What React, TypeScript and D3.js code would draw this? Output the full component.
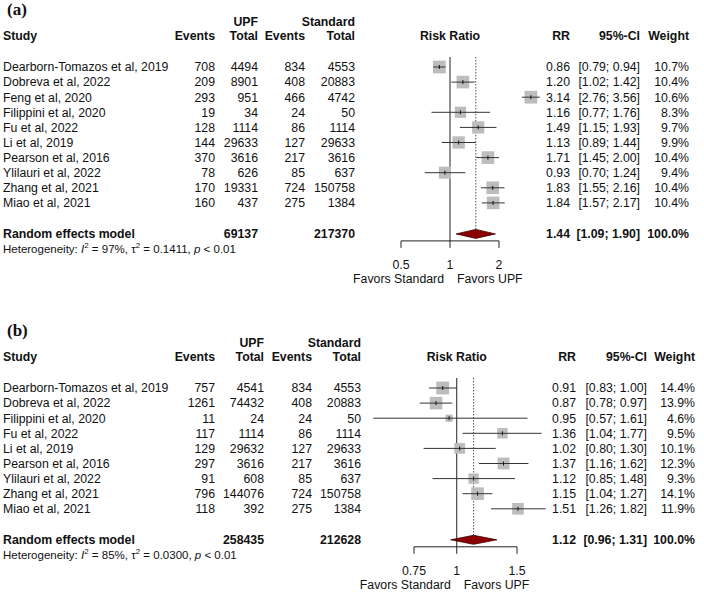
import React from "react";
import * as d3 from "d3";

// ---------- Panel (a) data ----------
const studiesA = [
  "Dearborn-Tomazos et al, 2019", "Dobreva et al, 2022", "Feng et al, 2020", "Filippini et al, 2020",
  "Fu et al, 2022", "Li et al, 2019", "Pearson et al, 2016", "Ylilauri et al, 2022",
  "Zhang et al, 2021", "Miao et al, 2021",
];
const eventsUpfA = [708, 209, 293, 19, 128, 144, 370, 78, 170, 160];
const totalUpfA = [4494, 8901, 951, 34, 1114, 29633, 3616, 626, 19331, 437];
const eventsStdA = [834, 408, 466, 24, 86, 127, 217, 85, 724, 275];
const totalStdA = [4553, 20883, 4742, 50, 1114, 29633, 3616, 637, 150758, 1384];
const rrA = [0.86, 1.2, 3.14, 1.16, 1.49, 1.13, 1.71, 0.93, 1.83, 1.84];
const lowerA = [0.79, 1.02, 2.76, 0.77, 1.15, 0.89, 1.45, 0.7, 1.55, 1.57];
const upperA = [0.94, 1.42, 3.56, 1.76, 1.93, 1.44, 2.0, 1.24, 2.16, 2.17];
const weightA = [10.7, 10.4, 10.6, 8.3, 9.7, 9.9, 10.4, 9.4, 10.4, 10.4];
const pooledA = [1.44, 1.09, 1.9];
const sumsA = [69137, 217370];
const hetA = ["97%", "0.1411", "< 0.01"];
const ticksA = [0.5, 1, 2];
const tickLabelsA = ["0.5", "1", "2"];

// ---------- Panel (b) data ----------
const studiesB = [
  "Dearborn-Tomazos et al, 2019", "Dobreva et al, 2022", "Filippini et al, 2020", "Fu et al, 2022",
  "Li et al, 2019", "Pearson et al, 2016", "Ylilauri et al, 2022", "Zhang et al, 2021", "Miao et al, 2021",
];
const eventsUpfB = [757, 1261, 11, 117, 129, 297, 91, 796, 118];
const totalUpfB = [4541, 74432, 24, 1114, 29632, 3616, 608, 144076, 392];
const eventsStdB = [834, 408, 24, 86, 127, 217, 85, 724, 275];
const totalStdB = [4553, 20883, 50, 1114, 29633, 3616, 637, 150758, 1384];
const rrB = [0.91, 0.87, 0.95, 1.36, 1.02, 1.37, 1.12, 1.15, 1.51];
const lowerB = [0.83, 0.78, 0.57, 1.04, 0.8, 1.16, 0.85, 1.04, 1.26];
const upperB = [1.0, 0.97, 1.61, 1.77, 1.3, 1.62, 1.48, 1.27, 1.82];
const weightB = [14.4, 13.9, 4.6, 9.5, 10.1, 12.3, 9.3, 14.1, 11.9];
const pooledB = [1.12, 0.96, 1.31];
const sumsB = [258435, 212628];
const hetB = ["85%", "0.0300", "< 0.01"];
const ticksB = [0.75, 1, 1.5];
const tickLabelsB = ["0.75", "1", "1.5"];

const FONT = "'Liberation Sans', Arial, Helvetica, sans-serif";
const FS = 12.3;

type PanelProps = {
  label: string; top: number; studies: string[]; ev1: number[]; tot1: number[]; ev2: number[]; tot2: number[];
  rr: number[]; lo: number[]; hi: number[]; w: number[]; pooled: number[]; sums: number[]; het: string[];
  ticks: number[]; tickLabels: string[]; range: [number, number];
  cols: { ev1: number; tot1: number; ev2: number; tot2: number; rr: number; ci: number; w: number };
};

const f2 = d3.format(".2f");
const f1 = d3.format(".1f");

function Panel(p: PanelProps) {
  const x = d3.scaleLog().domain([p.ticks[0], p.ticks[p.ticks.length - 1]]).range(p.range);
  const t = p.top;
  const rowY = (i: number) => t + 67 + 15.1 * i;
  const n = p.studies.length;
  const randY = rowY(n - 1) + 31;
  const axisY = randY + 7;
  const maxW = d3.max(p.w) as number;
  const sq = (wt: number) => 12.8 * Math.sqrt(wt / maxW);
  const x1 = x(1);
  const xp = x(p.pooled[0]);
  const b = 4.3; // baseline offset from centre
  const c = p.cols;
  const ciText = (l: number, h: number) => `[${f2(l)}; ${f2(h)}]`;
  return (
    <g fontFamily={FONT} fontSize={FS} fill="#111">
      <text x={7} y={t + 15} fontFamily="'Liberation Serif', 'Times New Roman', serif" fontWeight="bold" fontSize={17}>{p.label}</text>
      {/* headers */}
      <g fontWeight="bold">
        <text x={c.tot1} y={t + 22 + b} textAnchor="end">UPF</text>
        <text x={c.tot2} y={t + 22 + b} textAnchor="end">Standard</text>
        <text x={3} y={t + 36 + b}>Study</text>
        <text x={c.ev1} y={t + 36 + b} textAnchor="end">Events</text>
        <text x={c.tot1} y={t + 36 + b} textAnchor="end">Total</text>
        <text x={c.ev2} y={t + 36 + b} textAnchor="end">Events</text>
        <text x={c.tot2} y={t + 36 + b} textAnchor="end">Total</text>
        <text x={x1} y={t + 36 + b} textAnchor="middle">Risk Ratio</text>
        <text x={c.rr} y={t + 36 + b} textAnchor="end">RR</text>
        <text x={c.ci} y={t + 36 + b} textAnchor="end">95%-CI</text>
        <text x={c.w} y={t + 36 + b} textAnchor="end">Weight</text>
      </g>
      {/* reference lines */}
      <line x1={x1} x2={x1} y1={rowY(0) - 10} y2={axisY} stroke="#222" strokeWidth={1} />
      <line x1={xp} x2={xp} y1={rowY(0) - 10} y2={randY - 4.5} stroke="#555" strokeWidth={1} strokeDasharray="1.5,1.5" />
      {p.studies.map((s, i) => {
        const y = rowY(i);
        const sz = sq(p.w[i]);
        return (
          <g key={s}>
            <text x={3} y={y + b}>{s}</text>
            <text x={c.ev1} y={y + b} textAnchor="end">{p.ev1[i]}</text>
            <text x={c.tot1} y={y + b} textAnchor="end">{p.tot1[i]}</text>
            <text x={c.ev2} y={y + b} textAnchor="end">{p.ev2[i]}</text>
            <text x={c.tot2} y={y + b} textAnchor="end">{p.tot2[i]}</text>
            <rect x={x(p.rr[i]) - sz / 2} y={y - sz / 2} width={sz} height={sz} fill="#bdbdbd" />
            <line x1={x(p.lo[i])} x2={x(p.hi[i])} y1={y} y2={y} stroke="#333" strokeWidth={1} />
            <line x1={x(p.rr[i])} x2={x(p.rr[i])} y1={y - 2} y2={y + 2} stroke="#111" strokeWidth={1} />
            <text x={c.rr} y={y + b} textAnchor="end">{f2(p.rr[i])}</text>
            <text x={c.ci} y={y + b} textAnchor="end">{ciText(p.lo[i], p.hi[i])}</text>
            <text x={c.w} y={y + b} textAnchor="end">{f1(p.w[i]) + "%"}</text>
          </g>
        );
      })}
      {/* pooled */}
      <g fontWeight="bold">
        <text x={3} y={randY + b}>Random effects model</text>
        <text x={c.tot1} y={randY + b} textAnchor="end">{p.sums[0]}</text>
        <text x={c.tot2} y={randY + b} textAnchor="end">{p.sums[1]}</text>
        <text x={c.rr} y={randY + b} textAnchor="end">{f2(p.pooled[0])}</text>
        <text x={c.ci} y={randY + b} textAnchor="end">{ciText(p.pooled[1], p.pooled[2])}</text>
        <text x={c.w} y={randY + b} textAnchor="end">100.0%</text>
      </g>
      <polygon
        points={`${x(p.pooled[1])},${randY} ${xp},${randY - 4.5} ${x(p.pooled[2])},${randY} ${xp},${randY + 4.5}`}
        fill="#8b0000" stroke="#3a0000" strokeWidth={0.8}
      />
      <text x={3} y={randY + 15 + 4} fontSize={11.5}>
        {"Heterogeneity: "}
        <tspan fontStyle="italic">I</tspan>
        <tspan fontSize={8} dy={-4.5}>2</tspan>
        <tspan dy={4.5}>{` = ${p.het[0]}, τ`}</tspan>
        <tspan fontSize={8} dy={-4.5}>2</tspan>
        <tspan dy={4.5}>{` = ${p.het[1]}, `}</tspan>
        <tspan fontStyle="italic">p</tspan>
        <tspan>{` ${p.het[2]}`}</tspan>
      </text>
      {/* axis */}
      <line x1={x(p.ticks[0])} x2={x(p.ticks[p.ticks.length - 1])} y1={axisY} y2={axisY} stroke="#222" strokeWidth={1} />
      {p.ticks.map((tk, i) => (
        <g key={tk}>
          <line x1={x(tk)} x2={x(tk)} y1={axisY} y2={axisY + 7} stroke="#222" strokeWidth={1} />
          <text x={x(tk)} y={axisY + 24 + b} textAnchor="middle">{p.tickLabels[i]}</text>
        </g>
      ))}
      <text x={x1 - 6} y={axisY + 38 + b} textAnchor="end">Favors Standard</text>
      <text x={x1 + 7} y={axisY + 38 + b}>Favors UPF</text>
    </g>
  );
}

export default function App() {
  return (
    <svg width={704} height={594} style={{ position: "absolute", left: 0, top: 0, background: "#fff" }}>
      <rect width={704} height={594} fill="#fff" />
      <Panel
        label="(a)" top={0} studies={studiesA} ev1={eventsUpfA} tot1={totalUpfA} ev2={eventsStdA} tot2={totalStdA}
        rr={rrA} lo={lowerA} hi={upperA} w={weightA} pooled={pooledA} sums={sumsA} het={hetA}
        ticks={ticksA} tickLabels={tickLabelsA} range={[401, 499]}
        cols={{ ev1: 215, tot1: 258, ev2: 305, tot2: 355, rr: 570, ci: 640, w: 689 }}
      />
      <Panel
        label="(b)" top={321} studies={studiesB} ev1={eventsUpfB} tot1={totalUpfB} ev2={eventsStdB} tot2={totalStdB}
        rr={rrB} lo={lowerB} hi={upperB} w={weightB} pooled={pooledB} sums={sumsB} het={hetB}
        ticks={ticksB} tickLabels={tickLabelsB} range={[414, 517]}
        cols={{ ev1: 215, tot1: 264, ev2: 312, tot2: 361, rr: 576, ci: 647, w: 695 }}
      />
    </svg>
  );
}
